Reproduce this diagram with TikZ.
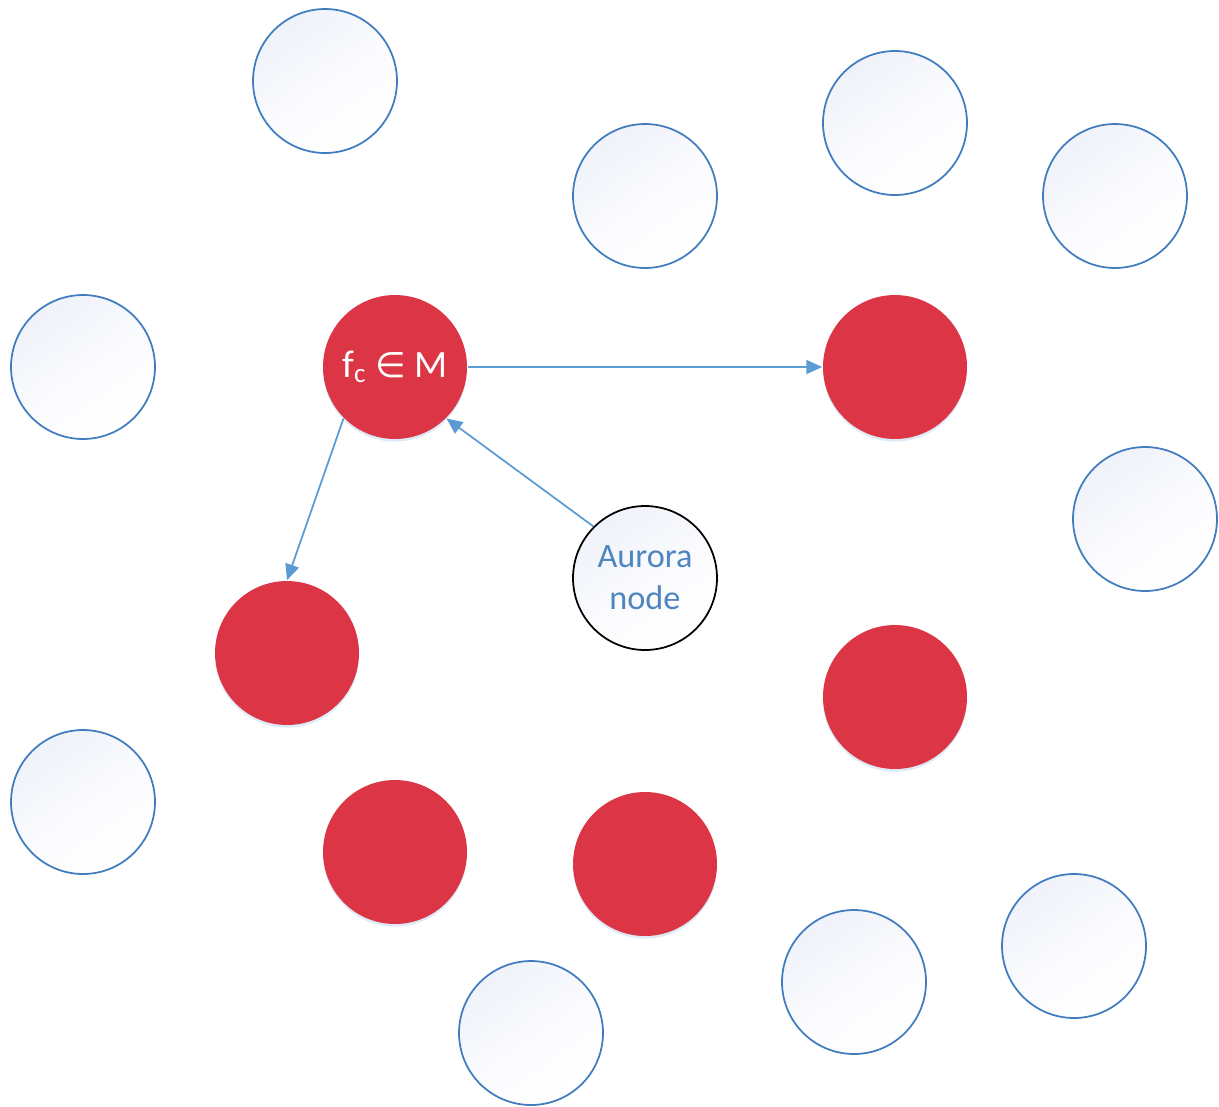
\documentclass[tikz,border=0pt]{standalone}
\usepackage{fontspec}
\setmainfont{Carlito}
\newfontfamily\symfont{DejaVu Sans}
\usetikzlibrary{arrows.meta,shadows}

\definecolor{peerline}{RGB}{65,125,190}
\definecolor{peerfill}{RGB}{240,242,250}
\definecolor{member}{RGB}{220,53,69}
\definecolor{arrowblue}{RGB}{91,155,213}
\definecolor{textblue}{RGB}{79,134,192}

\tikzset{
  peer/.style={circle,draw=peerline,line width=1pt,minimum size=2.88cm,inner sep=0pt,
    top color=peerfill,bottom color=white,middle color=peerfill!35,shading angle=35},
  member/.style={circle,fill=member,minimum size=2.88cm,inner sep=0pt,text=white,
    font=\fontsize{22}{26}\selectfont,
    drop shadow={shadow xshift=0pt,shadow yshift=-1.5pt,fill=arrowblue,opacity=0.2}},
  aurora/.style={circle,draw=black,line width=1pt,minimum size=2.88cm,inner sep=0pt,
    top color=peerfill,bottom color=white,middle color=peerfill!35,shading angle=35,
    text=textblue,align=center,font=\fontsize{19.5}{24}\selectfont}
}

\begin{document}
\begin{tikzpicture}[x=0.02cm,y=-0.02cm,>={Triangle[length=9pt,width=8pt]},line width=1pt]
\useasboundingbox (0,0) rectangle (1219,1106);

% peers
\node[peer] (w1)  at (325,81)   {};
\node[peer] (w2)  at (645,196)  {};
\node[peer] (w3)  at (895,123)  {};
\node[peer] (w4)  at (1115,196) {};
\node[peer] (w5)  at (83,367)   {};
\node[peer] (w6)  at (1145,519) {};
\node[peer] (w7)  at (83,802)   {};
\node[peer] (w8)  at (531,1033) {};
\node[peer] (w9)  at (854,982)  {};
\node[peer] (w10) at (1074,946) {};

% members of M
\node[member] (fc) at (395,367) {f\textsubscript{c} {\symfont\fontsize{20}{24}\selectfont ∈} M};
\node[member] (m2) at (895,367) {};
\node[member] (m3) at (287,653) {};
\node[member] (m4) at (895,697) {};
\node[member] (m5) at (395,852) {};
\node[member] (m6) at (645,864) {};

\node[aurora] (au) at (645,578) {Aurora\\node};

\path[->,color=arrowblue] (fc) edge (m2)
                          (fc.south west) edge (m3.north)
                          (au.north west) edge (fc.south east);
\end{tikzpicture}
\end{document}
